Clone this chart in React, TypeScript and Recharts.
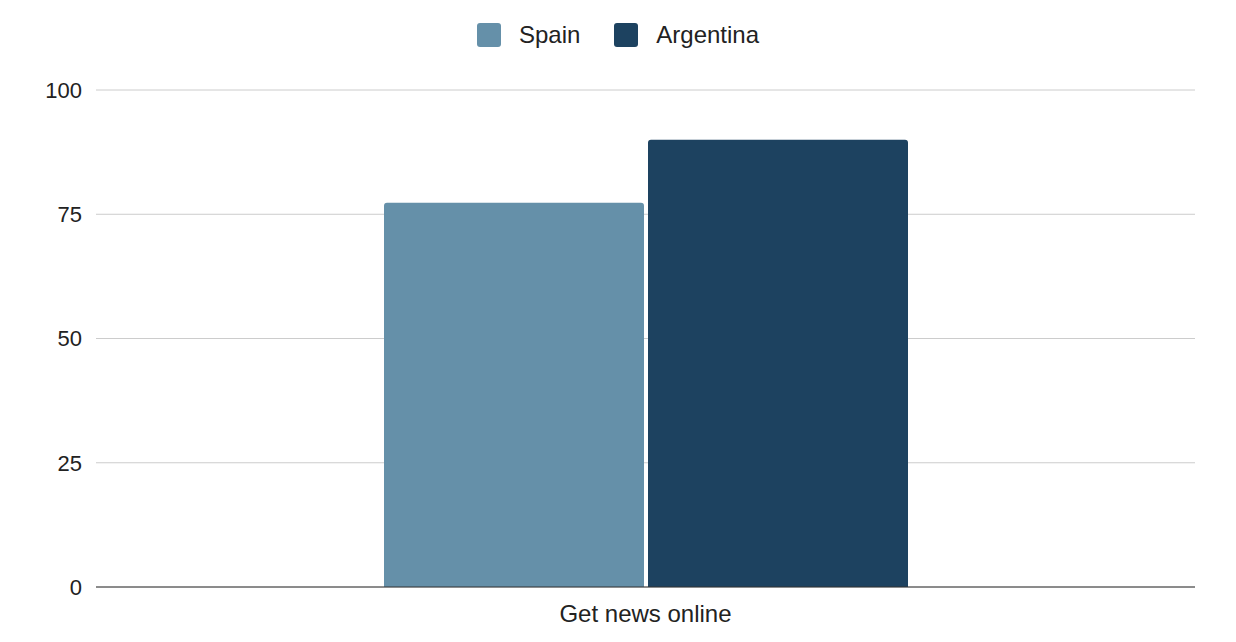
import { BarChart, Bar, XAxis, YAxis, CartesianGrid, Legend } from 'recharts';

document.body.style.margin = '0';

const categories = ['Get news online'];
const spainValues = [77.3];
const argentinaValues = [90];
const yTicks = [0, 25, 50, 75, 100];

const colors = {
    spain: '#6590a9',
    argentina: '#1d4260',
};

const chartData = categories.map((c, i) => ({
    category: c,
    Spain: spainValues[i],
    Argentina: argentinaValues[i],
}));

const font = '"Liberation Sans", Arial, sans-serif';

function renderLegend() {
    const items = [
        { name: 'Spain', color: colors.spain },
        { name: 'Argentina', color: colors.argentina },
    ];
    return (
        <div style={{ display: 'flex', justifyContent: 'center', alignItems: 'center', height: 30, fontFamily: font, fontSize: 24, color: '#222' }}>
            {items.map((it, i) => (
                <div key={it.name} style={{ display: 'flex', alignItems: 'center', marginLeft: i === 0 ? 0 : 34 }}>
                    <span style={{ display: 'inline-block', width: 24, height: 24, background: it.color, borderRadius: 3, marginRight: 18 }} />
                    <span>{it.name}</span>
                </div>
            ))}
        </div>
    );
}

export default function App() {
    return (
        <div style={{ width: 1236, height: 642, background: '#fff' }}>
            <BarChart width={1236} height={642} data={chartData}
                margin={{ top: 60, right: 41, bottom: 0, left: 0 }}
                barSize={260} barGap={4}>
                <CartesianGrid vertical={false} stroke="#cccccc" />
                <Legend verticalAlign="top" content={renderLegend} wrapperStyle={{ top: 20, left: 0, width: 1236 }} />
                <XAxis dataKey="category" tickLine={false} stroke="#333333"
                    tick={{ fill: '#222', fontSize: 24, fontFamily: font }} height={55} tickMargin={12} />
                <YAxis domain={[0, 100]} ticks={yTicks} axisLine={false} tickLine={false} width={96}
                    tickMargin={8} tick={{ fill: '#222', fontSize: 22, fontFamily: font }} />
                <Bar dataKey="Spain" fill={colors.spain} radius={[3, 3, 0, 0]} isAnimationActive={false} />
                <Bar dataKey="Argentina" fill={colors.argentina} radius={[3, 3, 0, 0]} isAnimationActive={false} />
            </BarChart>
        </div>
    );
}
